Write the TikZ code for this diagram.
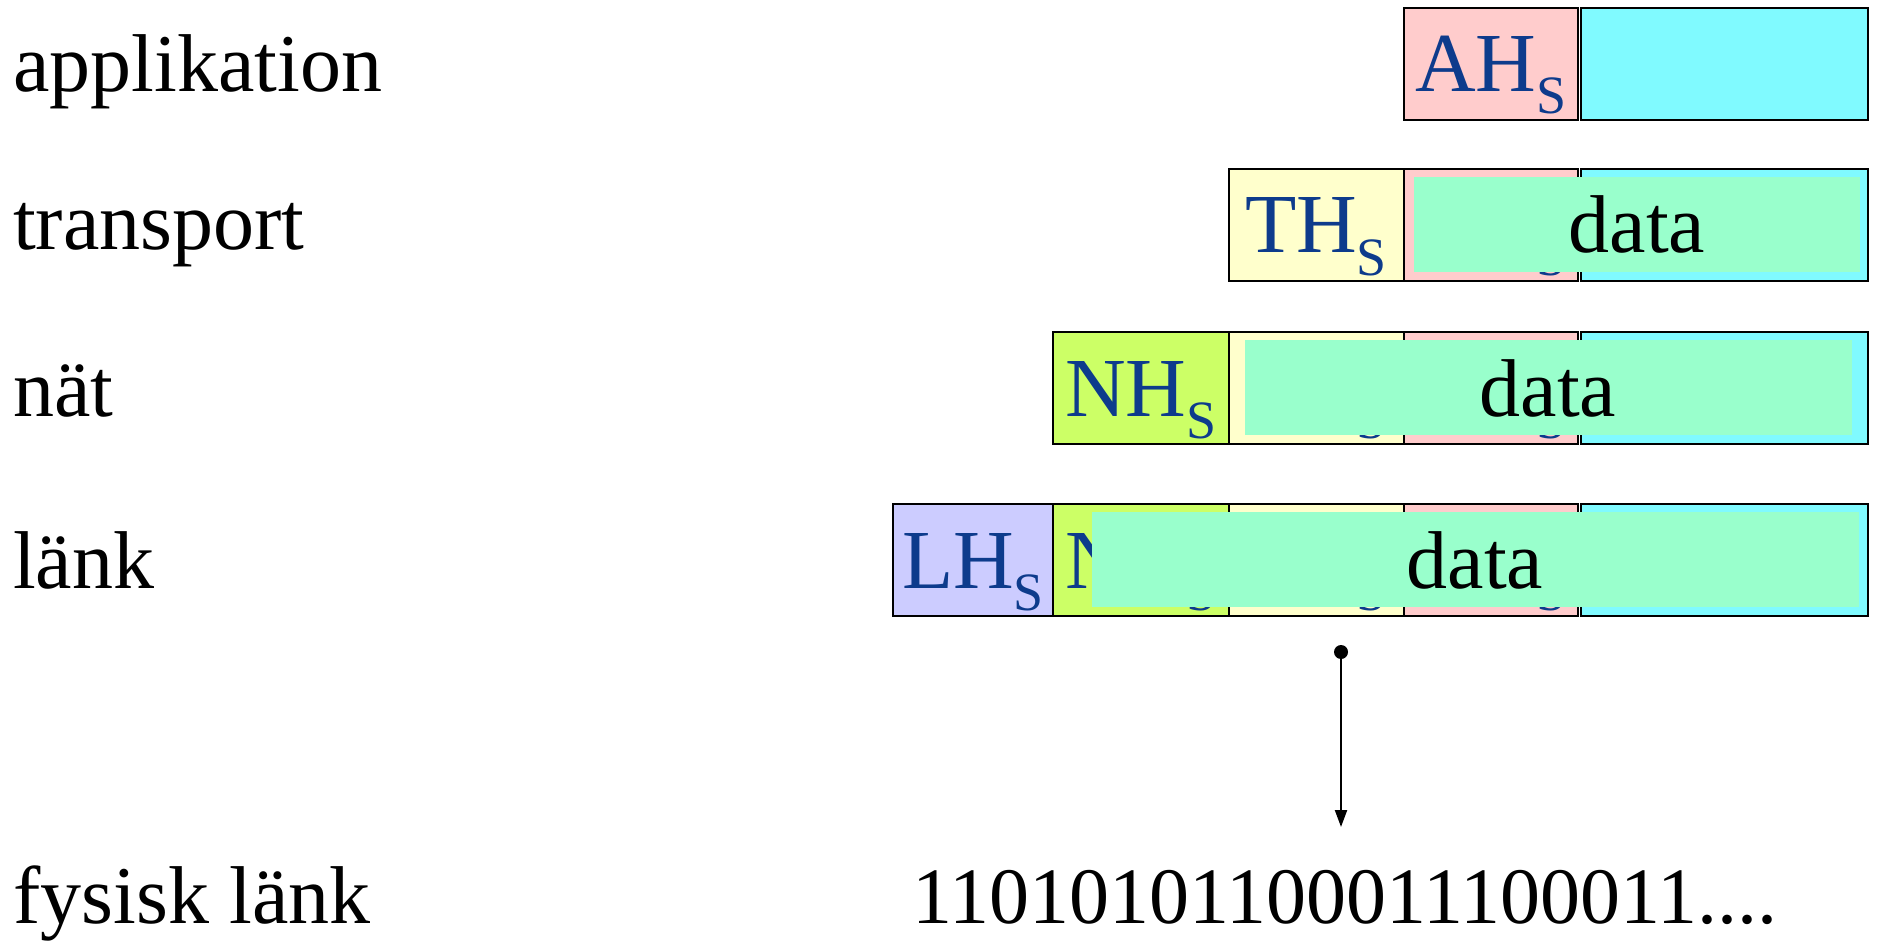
\documentclass[tikz,border=0pt]{standalone}
\usepackage{fontspec}
\setmainfont{Liberation Serif}
\usetikzlibrary{arrows.meta}
\definecolor{hpink}{HTML}{FFCCCC}
\definecolor{hcyan}{HTML}{80FAFF}
\definecolor{hyellow}{HTML}{FFFFCC}
\definecolor{hgreen}{HTML}{CCFF66}
\definecolor{hlav}{HTML}{CCCCFF}
\definecolor{hmint}{HTML}{99FFCC}
\definecolor{hblue}{HTML}{0D3B8C}
\newcommand{\hdrtxt}[1]{#1\raisebox{-22pt}{\fontsize{54}{60}\selectfont S}}
\tikzset{
  cell/.style={draw=black, line width=2.8pt, inner sep=0pt, outer sep=0pt,
    anchor=north west, minimum height=112pt},
  overlay/.style={fill=hmint, inner sep=0pt, outer sep=0pt, anchor=north west,
    minimum height=95pt},
  layerlabel/.style={font=\fontsize{82}{96}\selectfont, anchor=base west, inner sep=0pt},
  datatext/.style={font=\fontsize{82}{98}\selectfont, anchor=base, inner sep=0pt},
  hdrlabel/.style={font=\fontsize{84}{100}\selectfont, text=hblue, anchor=base, inner sep=0pt},
  bittext/.style={font=\fontsize{80}{95}\selectfont, anchor=base west, inner sep=0pt}
}
\begin{document}
\begin{tikzpicture}[x=1pt,y=-1pt]
\useasboundingbox (0,0) rectangle (1877,944);

% layer labels
\node[layerlabel] (lapp) at (13,92) {applikation};
\node[layerlabel] (ltra) at (13,250) {transport};
\node[layerlabel] (lnet) at (13,416) {nät};
\node[layerlabel] (llnk) at (13,588) {länk};
\node[layerlabel] (lphy) at (13,923) {fysisk länk};

% application row
\node[cell, fill=hpink, minimum width=174pt] (a-ah) at (1404,8) {};
\node[cell, fill=hcyan, minimum width=287pt] (a-d) at (1581,8) {};
% transport row
\node[cell, fill=hyellow, minimum width=175pt] (t-th) at (1229,169) {};
\node[cell, fill=hpink, minimum width=174pt] (t-ah) at (1404,169) {};
\node[cell, fill=hcyan, minimum width=287pt] (t-d) at (1581,169) {};
% network row
\node[cell, fill=hgreen, minimum width=176pt] (n-nh) at (1053,332) {};
\node[cell, fill=hyellow, minimum width=175pt] (n-th) at (1229,332) {};
\node[cell, fill=hpink, minimum width=174pt] (n-ah) at (1404,332) {};
\node[cell, fill=hcyan, minimum width=287pt] (n-d) at (1581,332) {};
% link row
\node[cell, fill=hlav, minimum width=160pt] (l-lh) at (893,504) {};
\node[cell, fill=hgreen, minimum width=176pt] (l-nh) at (1053,504) {};
\node[cell, fill=hyellow, minimum width=175pt] (l-th) at (1229,504) {};
\node[cell, fill=hpink, minimum width=174pt] (l-ah) at (1404,504) {};
\node[cell, fill=hcyan, minimum width=287pt] (l-d) at (1581,504) {};

% header labels
\node[hdrlabel] (a-ahx) at (1491,92) {\hdrtxt{AH}};
\node[hdrlabel] (t-thx) at (1316,253) {\hdrtxt{TH}};
\node[hdrlabel] (t-ahx) at (1491,253) {\hdrtxt{AH}};
\node[hdrlabel] (n-nhx) at (1141,416) {\hdrtxt{NH}};
\node[hdrlabel] (n-thx) at (1316,416) {\hdrtxt{TH}};
\node[hdrlabel] (n-ahx) at (1491,416) {\hdrtxt{AH}};
\node[hdrlabel] (l-lhx) at (973,588) {\hdrtxt{LH}};
\node[hdrlabel] (l-nhx) at (1141,588) {\hdrtxt{NH}};
\node[hdrlabel] (l-thx) at (1316,588) {\hdrtxt{TH}};
\node[hdrlabel] (l-ahx) at (1491,588) {\hdrtxt{AH}};

% data overlays
\node[overlay, minimum width=446pt] (t-ov) at (1414,177) {};
\node[overlay, minimum width=607pt] (n-ov) at (1245,340) {};
\node[overlay, minimum width=767pt] (l-ov) at (1092,512) {};
\node[datatext] (t-data) at (1637,253) {data};
\node[datatext] (n-data) at (1548,416) {data};
\node[datatext] (l-data) at (1475,588) {data};

% physical
\node[circle, fill=black, inner sep=0pt, minimum size=14pt] (dot) at (1341,652) {};
\coordinate (arrend) at (1341,827);
\draw[line width=2.2pt, -{Triangle[length=17pt,width=12pt]}] (dot.center) -- (arrend);
\node[bittext] (bits) at (912,923) {11010101100011100011....};
\end{tikzpicture}
\end{document}
